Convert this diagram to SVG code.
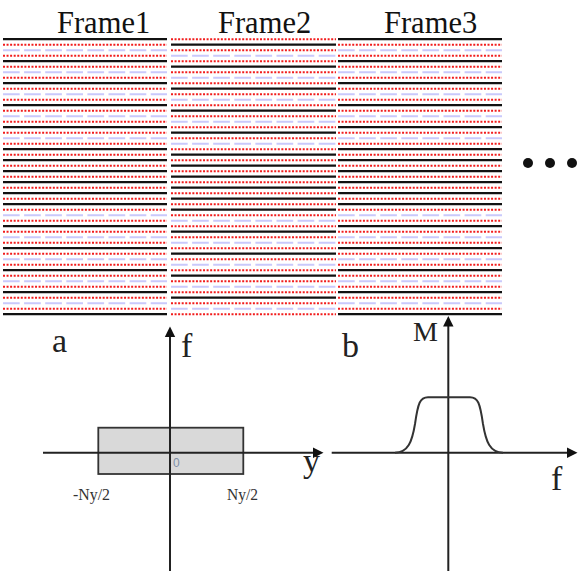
<svg xmlns="http://www.w3.org/2000/svg" xmlns:xlink="http://www.w3.org/1999/xlink" width="579" height="571" viewBox="0 0 579 571">
<style>
.blk{stroke:#111;stroke-width:2.2;fill:none}
.red{stroke:#f21c1c;stroke-width:2;stroke-dasharray:2 1.56;fill:none}
.blu{stroke:#c9c9fb;stroke-width:2;stroke-dasharray:16.7 4.4;fill:none}
.ttl{font-family:"Liberation Serif","Times New Roman",serif;font-size:30.5px;fill:#111}
.lbl{font-family:"Liberation Serif","Times New Roman",serif;font-size:34px;fill:#222}
.sml{font-family:"Liberation Serif","Times New Roman",serif;font-size:17px;fill:#333}
.ax{stroke:#222;stroke-width:2;fill:none}
.ah{fill:#111}
</style>
<defs>
<g id="f1lines">
<path class="blk" d="M3 39.2H167M3 61.2H167M3 83.2H167M3 105.2H167M3 127.2H167M3 149.2H167M3 160.2H167M3 171.2H167M3 182.2H167M3 193.2H167M3 204.2H167M3 226.2H167M3 248.2H167M3 270.2H167M3 292.2H167M3 314.2H167"/>
<path class="blu" d="M3 50.2H167M3 72.2H167M3 94.2H167M3 116.2H167M3 138.2H167M3 215.2H167M3 237.2H167M3 259.2H167M3 281.2H167M3 303.2H167"/>
<path class="red" d="M3 44.7H167M3 55.7H167M3 66.7H167M3 77.7H167M3 88.7H167M3 99.7H167M3 110.7H167M3 121.7H167M3 132.7H167M3 143.7H167M3 154.7H167M3 165.7H167M3 176.7H167M3 187.7H167M3 198.7H167M3 209.7H167M3 220.7H167M3 231.7H167M3 242.7H167M3 253.7H167M3 264.7H167M3 275.7H167M3 286.7H167M3 297.7H167M3 308.7H167"/>
</g>
</defs>
<g id="titles">
<text class="ttl" x="57" y="33">Frame1</text>
<text class="ttl" x="218" y="33">Frame2</text>
<text class="ttl" x="384" y="33">Frame3</text>
</g>
<g id="frame1">
<use xlink:href="#f1lines" href="#f1lines"/>
</g>
<g id="frame2">
<path class="blk" d="M171 44.7H336M171 66.7H336M171 88.7H336M171 110.7H336M171 132.7H336M171 154.7H336M171 165.7H336M171 176.7H336M171 187.7H336M171 198.7H336M171 209.7H336M171 231.7H336M171 253.7H336M171 275.7H336M171 297.7H336"/>
<path class="blu" d="M171 55.7H336M171 77.7H336M171 99.7H336M171 121.7H336M171 143.7H336M171 220.7H336M171 242.7H336M171 264.7H336M171 286.7H336M171 308.7H336"/>
<path class="red" d="M171 39.2H336M171 50.2H336M171 61.2H336M171 72.2H336M171 83.2H336M171 94.2H336M171 105.2H336M171 116.2H336M171 127.2H336M171 138.2H336M171 149.2H336M171 160.2H336M171 171.2H336M171 182.2H336M171 193.2H336M171 204.2H336M171 215.2H336M171 226.2H336M171 237.2H336M171 248.2H336M171 259.2H336M171 270.2H336M171 281.2H336M171 292.2H336M171 303.2H336M171 314.2H336"/>
</g>
<g id="frame3">
<use xlink:href="#f1lines" href="#f1lines" transform="translate(335,0)"/>
</g>
<g id="ellipsis" fill="#111">
<circle cx="528" cy="163" r="5"/>
<circle cx="550" cy="163" r="5"/>
<circle cx="572" cy="163" r="5"/>
</g>
<g id="plotA">
<rect x="98.3" y="427.7" width="145" height="46.3" fill="#d9d9d9" stroke="#333" stroke-width="1.8"/>
<path class="ax" d="M43 452.7H314"/>
<path class="ah" d="M323.5 452.7L313 447.5V457.9Z"/>
<path class="ax" d="M170 571V336"/>
<path class="ah" d="M170 326.5L164.8 337H175.2Z"/>
<text class="lbl" x="52" y="352">a</text>
<text class="lbl" x="181" y="357">f</text>
<text class="lbl" x="303" y="472">y</text>
<text x="173" y="467" font-family="Liberation Sans,sans-serif" font-size="12" fill="#7f8fa6">0</text>
<text class="sml" x="73" y="500" textLength="37" lengthAdjust="spacingAndGlyphs">-Ny/2</text>
<text class="sml" x="227" y="500" textLength="31" lengthAdjust="spacingAndGlyphs">Ny/2</text>
</g>
<g id="plotB">
<path class="ax" d="M331.7 452.7H568"/>
<path class="ah" d="M577.5 452.7L567 447.5V457.9Z"/>
<path class="ax" d="M448.3 571V326"/>
<path class="ah" d="M448.3 316L443.1 326.5H453.5Z"/>
<path d="M395 452.7C408 452.7 412 442 415 424C418 403 420 397.3 428 397.3L470 397.3C478 397.3 480 403 483 424C486 442 490 452.7 503 452.7" fill="none" stroke="#333" stroke-width="2"/>
<text class="lbl" x="342" y="357">b</text>
<text x="413" y="341" font-family="Liberation Serif,serif" font-size="28" fill="#222">M</text>
<text class="lbl" x="551" y="490">f</text>
</g>
</svg>
